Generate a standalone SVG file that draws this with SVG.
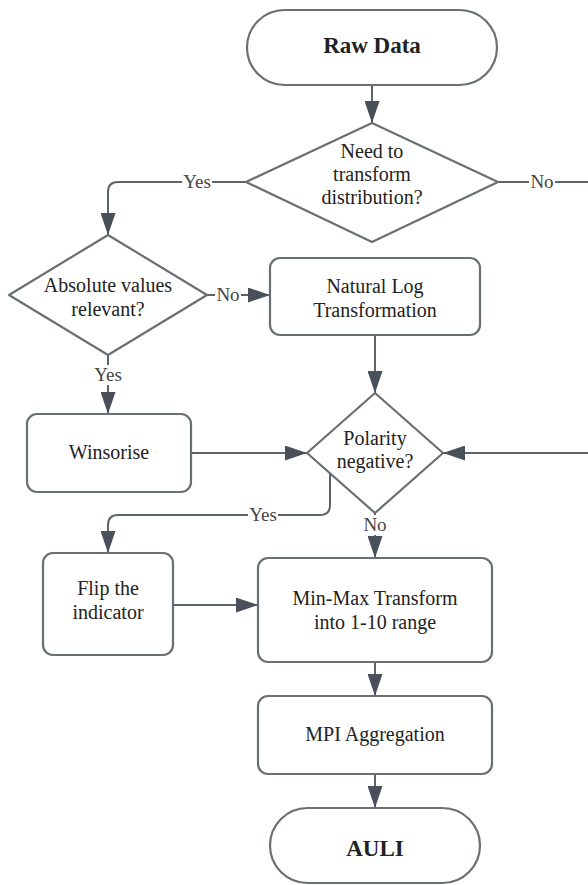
<svg xmlns="http://www.w3.org/2000/svg" width="588" height="885" viewBox="0 0 588 885">
<defs>
<marker id="arr" markerUnits="userSpaceOnUse" markerWidth="22" markerHeight="15" refX="22" refY="7.5" orient="auto" viewBox="0 0 22 15">
<path d="M0,0 L22,7.5 L0,15 Z" fill="#4a505a"/>
</marker>
<style>
.sh{fill:#fff;stroke:#6a6e75;stroke-width:2.2}
.t{font-family:'Liberation Serif','DejaVu Serif',serif;font-size:20px;fill:#222;text-anchor:middle}
.b{font-weight:bold;font-size:23px}
.c{fill:none;stroke:#5d626b;stroke-width:2}
.lb{font-family:'Liberation Serif','DejaVu Serif',serif;font-size:19px;fill:#444;text-anchor:middle}
.bg{fill:#fff}
</style>
</defs>
<rect width="588" height="885" fill="#fff"/>
<g id="connectors">
<path class="c" d="M372,85 V123" marker-end="url(#arr)"/>
<path class="c" d="M246,182 H118 Q108,182 108,192 V235" marker-end="url(#arr)"/>
<path class="c" d="M498,182 H588"/>
<path class="c" d="M588,453 H443" marker-end="url(#arr)"/>
<path class="c" d="M207,295 H270" marker-end="url(#arr)"/>
<path class="c" d="M108,355 V414" marker-end="url(#arr)"/>
<path class="c" d="M375,335 V393" marker-end="url(#arr)"/>
<path class="c" d="M191,453 H307" marker-end="url(#arr)"/>
<path class="c" d="M330,474 V505 Q330,515 320,515 H118 Q108,515 108,525 V553" marker-end="url(#arr)"/>
<path class="c" d="M375,513 V558" marker-end="url(#arr)"/>
<path class="c" d="M173,605 H258" marker-end="url(#arr)"/>
<path class="c" d="M375,662 V696" marker-end="url(#arr)"/>
<path class="c" d="M375,774 V808" marker-end="url(#arr)"/>
<rect class="bg" x="182" y="172" width="30" height="20"/>
<text class="lb" x="197" y="188">Yes</text>
<rect class="bg" x="529" y="172" width="26" height="20"/>
<text class="lb" x="542" y="188">No</text>
<rect class="bg" x="215" y="285" width="26" height="20"/>
<text class="lb" x="228" y="301">No</text>
<rect class="bg" x="93" y="365" width="30" height="20"/>
<text class="lb" x="108" y="381">Yes</text>
<rect class="bg" x="248" y="505" width="30" height="20"/>
<text class="lb" x="263" y="521">Yes</text>
<rect class="bg" x="362" y="515" width="26" height="20"/>
<text class="lb" x="375" y="531">No</text>
</g>
<g id="raw-data">
<rect class="sh" x="247" y="10" width="250" height="75" rx="37.5"/>
<text class="t b" x="372" y="53">Raw Data</text>
</g>
<g id="need-transform">
<path class="sh" d="M372,123 L498,182 L372,242 L246,182 Z" stroke-linejoin="round"/>
<text class="t" x="372" y="158">Need to</text>
<text class="t" x="372" y="181">transform</text>
<text class="t" x="372" y="204">distribution?</text>
</g>
<g id="absolute-values">
<path class="sh" d="M108,235 L207,295 L108,355 L9,295 Z" stroke-linejoin="round"/>
<text class="t" x="108" y="292">Absolute values</text>
<text class="t" x="108" y="316">relevant?</text>
</g>
<g id="natural-log">
<rect class="sh" x="270" y="258" width="210" height="77" rx="10"/>
<text class="t" x="375" y="293">Natural Log</text>
<text class="t" x="375" y="317">Transformation</text>
</g>
<g id="winsorise">
<rect class="sh" x="27" y="414" width="164" height="78" rx="10"/>
<text class="t" x="109" y="459">Winsorise</text>
</g>
<g id="polarity">
<path class="sh" d="M375,393 L443,453 L375,513 L307,453 Z" stroke-linejoin="round"/>
<text class="t" x="375" y="445">Polarity</text>
<text class="t" x="375" y="468">negative?</text>
</g>
<g id="flip">
<rect class="sh" x="43" y="553" width="130" height="102" rx="10"/>
<text class="t" x="108" y="595">Flip the</text>
<text class="t" x="108" y="619">indicator</text>
</g>
<g id="minmax">
<rect class="sh" x="258" y="558" width="234" height="104" rx="10"/>
<text class="t" x="375" y="605">Min-Max Transform</text>
<text class="t" x="375" y="629">into 1-10 range</text>
</g>
<g id="mpi">
<rect class="sh" x="258" y="696" width="234" height="78" rx="10"/>
<text class="t" x="375" y="741">MPI Aggregation</text>
</g>
<g id="auli">
<rect class="sh" x="270" y="808" width="210" height="75" rx="37.5"/>
<text class="t b" x="375" y="856">AULI</text>
</g>
</svg>
